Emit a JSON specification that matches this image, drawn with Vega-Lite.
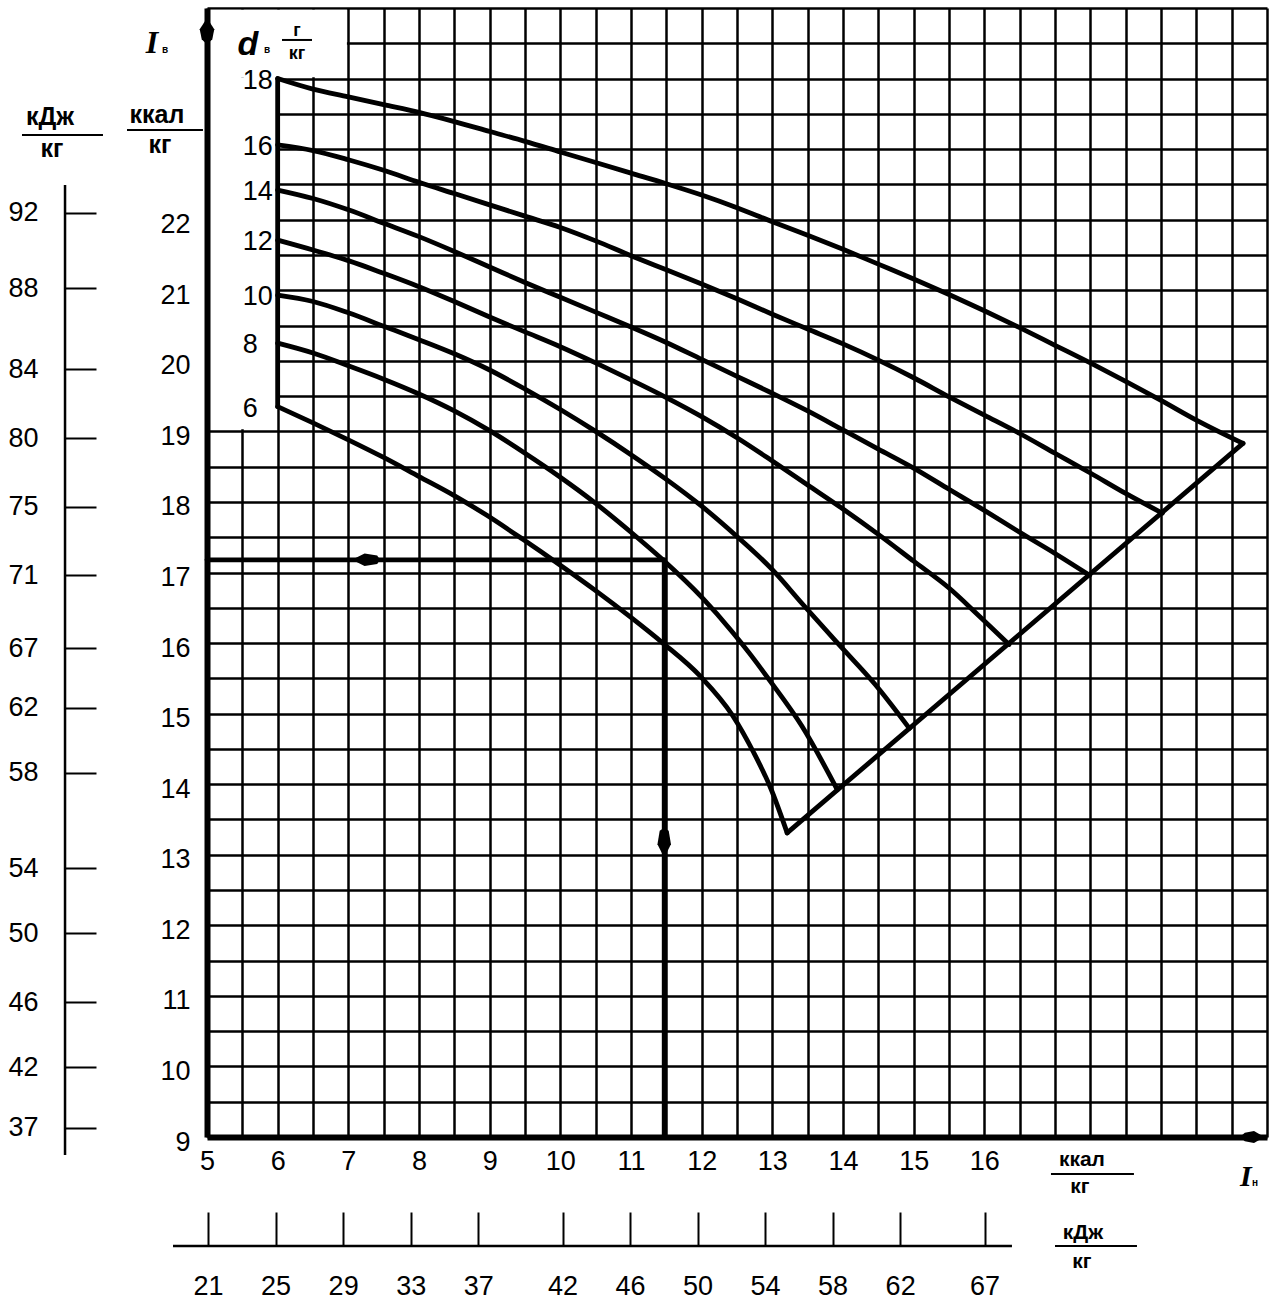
{
"$schema":"https://vega.github.io/schema/vega-lite/v6.json",
"width":1060,"height":1129,
"autosize":{"type":"none"},
"padding":{"left":207,"top":8,"right":8,"bottom":162},
"background":"white",
"config":{"view":{"stroke":null}},
"datasets":{
"curves":[
{"d":18,"x":6,"y":24.0},{"d":18,"x":6.5,"y":23.85},{"d":18,"x":7,"y":23.74},{"d":18,"x":7.5,"y":23.63},{"d":18,"x":8,"y":23.52},{"d":18,"x":8.5,"y":23.39},{"d":18,"x":9,"y":23.25},{"d":18,"x":9.5,"y":23.11},{"d":18,"x":10,"y":22.96},{"d":18,"x":10.5,"y":22.81},{"d":18,"x":11,"y":22.66},{"d":18,"x":11.5,"y":22.51},{"d":18,"x":12,"y":22.35},{"d":18,"x":12.5,"y":22.17},{"d":18,"x":13,"y":21.97},{"d":18,"x":13.5,"y":21.78},{"d":18,"x":14,"y":21.58},{"d":18,"x":14.5,"y":21.37},{"d":18,"x":15,"y":21.16},{"d":18,"x":15.5,"y":20.94},{"d":18,"x":16,"y":20.71},{"d":18,"x":16.5,"y":20.47},{"d":18,"x":17,"y":20.22},{"d":18,"x":17.5,"y":19.97},{"d":18,"x":18,"y":19.71},{"d":18,"x":18.5,"y":19.44},{"d":18,"x":19,"y":19.16},{"d":18,"x":19.66,"y":18.83},
{"d":16,"x":6,"y":23.06},{"d":16,"x":6.5,"y":22.98},{"d":16,"x":7,"y":22.85},{"d":16,"x":7.5,"y":22.7},{"d":16,"x":8,"y":22.53},{"d":16,"x":8.5,"y":22.37},{"d":16,"x":9,"y":22.21},{"d":16,"x":9.5,"y":22.05},{"d":16,"x":10,"y":21.89},{"d":16,"x":10.5,"y":21.7},{"d":16,"x":11,"y":21.49},{"d":16,"x":11.5,"y":21.29},{"d":16,"x":12,"y":21.09},{"d":16,"x":12.5,"y":20.88},{"d":16,"x":13,"y":20.66},{"d":16,"x":13.5,"y":20.45},{"d":16,"x":14,"y":20.24},{"d":16,"x":14.5,"y":20.01},{"d":16,"x":15,"y":19.76},{"d":16,"x":15.5,"y":19.49},{"d":16,"x":16,"y":19.23},{"d":16,"x":16.5,"y":18.97},{"d":16,"x":17,"y":18.69},{"d":16,"x":17.5,"y":18.41},{"d":16,"x":18,"y":18.12},{"d":16,"x":18.52,"y":17.84},
{"d":14,"x":6,"y":22.42},{"d":14,"x":6.5,"y":22.3},{"d":14,"x":7,"y":22.14},{"d":14,"x":7.5,"y":21.95},{"d":14,"x":8,"y":21.76},{"d":14,"x":8.5,"y":21.55},{"d":14,"x":9,"y":21.33},{"d":14,"x":9.5,"y":21.11},{"d":14,"x":10,"y":20.9},{"d":14,"x":10.5,"y":20.69},{"d":14,"x":11,"y":20.48},{"d":14,"x":11.5,"y":20.26},{"d":14,"x":12,"y":20.02},{"d":14,"x":12.5,"y":19.78},{"d":14,"x":13,"y":19.54},{"d":14,"x":13.5,"y":19.29},{"d":14,"x":14,"y":19.02},{"d":14,"x":14.5,"y":18.75},{"d":14,"x":15,"y":18.48},{"d":14,"x":15.5,"y":18.18},{"d":14,"x":16,"y":17.88},{"d":14,"x":16.5,"y":17.57},{"d":14,"x":17,"y":17.27},{"d":14,"x":17.49,"y":16.96},
{"d":12,"x":6,"y":21.71},{"d":12,"x":6.5,"y":21.57},{"d":12,"x":7,"y":21.42},{"d":12,"x":7.5,"y":21.24},{"d":12,"x":8,"y":21.05},{"d":12,"x":8.5,"y":20.84},{"d":12,"x":9,"y":20.62},{"d":12,"x":9.5,"y":20.41},{"d":12,"x":10,"y":20.2},{"d":12,"x":10.5,"y":19.97},{"d":12,"x":11,"y":19.73},{"d":12,"x":11.5,"y":19.48},{"d":12,"x":12,"y":19.21},{"d":12,"x":12.5,"y":18.91},{"d":12,"x":13,"y":18.58},{"d":12,"x":13.5,"y":18.24},{"d":12,"x":14,"y":17.9},{"d":12,"x":14.5,"y":17.54},{"d":12,"x":15,"y":17.16},{"d":12,"x":15.5,"y":16.78},{"d":12,"x":15.9,"y":16.41},{"d":12,"x":16.35,"y":15.98},
{"d":10,"x":6,"y":20.93},{"d":10,"x":6.5,"y":20.84},{"d":10,"x":7,"y":20.68},{"d":10,"x":7.5,"y":20.49},{"d":10,"x":8,"y":20.3},{"d":10,"x":8.5,"y":20.1},{"d":10,"x":9,"y":19.87},{"d":10,"x":9.5,"y":19.6},{"d":10,"x":10,"y":19.31},{"d":10,"x":10.5,"y":19.0},{"d":10,"x":11,"y":18.67},{"d":10,"x":11.5,"y":18.32},{"d":10,"x":12,"y":17.94},{"d":10,"x":12.5,"y":17.51},{"d":10,"x":13,"y":17.04},{"d":10,"x":13.43,"y":16.55},{"d":10,"x":13.96,"y":15.96},{"d":10,"x":14.45,"y":15.42},{"d":10,"x":14.94,"y":14.79},
{"d":8,"x":6,"y":20.25},{"d":8,"x":6.5,"y":20.11},{"d":8,"x":7,"y":19.93},{"d":8,"x":7.5,"y":19.74},{"d":8,"x":8,"y":19.53},{"d":8,"x":8.5,"y":19.29},{"d":8,"x":9,"y":19.01},{"d":8,"x":9.5,"y":18.69},{"d":8,"x":10,"y":18.35},{"d":8,"x":10.5,"y":17.98},{"d":8,"x":11,"y":17.57},{"d":8,"x":11.45,"y":17.18},{"d":8,"x":12,"y":16.65},{"d":8,"x":12.44,"y":16.15},{"d":8,"x":12.68,"y":15.85},{"d":8,"x":12.97,"y":15.46},{"d":8,"x":13.42,"y":14.82},{"d":8,"x":13.92,"y":13.92},
{"d":6,"x":6,"y":19.35},{"d":6,"x":6.5,"y":19.12},{"d":6,"x":7,"y":18.88},{"d":6,"x":7.5,"y":18.63},{"d":6,"x":8,"y":18.36},{"d":6,"x":8.48,"y":18.1},{"d":6,"x":8.96,"y":17.81},{"d":6,"x":9.47,"y":17.47},{"d":6,"x":9.99,"y":17.11},{"d":6,"x":10.49,"y":16.75},{"d":6,"x":10.99,"y":16.37},{"d":6,"x":11.45,"y":16.0},{"d":6,"x":11.98,"y":15.53},{"d":6,"x":12.44,"y":14.97},{"d":6,"x":12.73,"y":14.46},{"d":6,"x":12.97,"y":13.96},{"d":6,"x":13.21,"y":13.31}
],
"segments":[
{"x":13.21,"y":13.31,"x2":19.66,"y2":18.83},
{"x":6,"y":19.35,"x2":6,"y2":24.0},
{"x":5,"y":17.18,"x2":11.47,"y2":17.18},
{"x":11.47,"y":17.18,"x2":11.47,"y2":9}
]
},
"resolve":{"axis":{"x":"independent","y":"independent"}},
"layer":[
{"data":{"values":[{}]},"mark":{"type":"rect","color":"white"},
"encoding":{
"x":{"datum":5.04,"type":"quantitative","scale":{"domain":[5,20],"nice":false,"zero":false},
"axis":{"orient":"bottom","values":[5,5.5,6,6.5,7,7.5,8,8.5,9,9.5,10,10.5,11,11.5,12,12.5,13,13.5,14,14.5,15,15.5,16,16.5,17,17.5,18,18.5,19,19.5,20],"grid":true,"gridColor":"black","gridWidth":2.5,"gridOpacity":1,"labels":false,"ticks":false,"domain":false,"title":null,"zindex":0}},
"x2":{"datum":5.985},
"y":{"datum":19.03,"type":"quantitative","scale":{"domain":[9,25],"nice":false,"zero":false},
"axis":{"orient":"left","values":[9,9.5,10,10.5,11,11.5,12,12.5,13,13.5,14,14.5,15,15.5,16,16.5,17,17.5,18,18.5,19,19.5,20,20.5,21,21.5,22,22.5,23,23.5,24,24.5,25],"grid":true,"gridColor":"black","gridWidth":2.5,"gridOpacity":1,"labels":false,"ticks":false,"domain":false,"title":null,"zindex":0}},
"y2":{"datum":24.02}}},
{"data":{"values":[{}]},"mark":{"type":"rect","color":"white"},
"encoding":{"x":{"datum":5.04,"type":"quantitative","axis":null},"x2":{"datum":6.98},"y":{"datum":24.02,"type":"quantitative","axis":null},"y2":{"datum":24.975}}},
{"data":{"name":"curves"},"mark":{"type":"line","color":"black","strokeWidth":4.8,"strokeJoin":"round","strokeCap":"round","interpolate":"monotone"},
"encoding":{
"x":{"field":"x","type":"quantitative","axis":{"orient":"bottom","values":[5,6,7,8,9,10,11,12,13,14,15,16],"grid":false,"ticks":false,"tickSize":0,"domain":true,"domainColor":"black","domainWidth":6,"labelFont":"Liberation Sans","labelFontSize":27,"labelColor":"black","labelPadding":11,"labelFlush":false,"labelOverlap":false,"title":null,"zindex":1}},
"y":{"field":"y","type":"quantitative","axis":{"orient":"left","values":[9,10,11,12,13,14,15,16,17,18,19,20,21,22],"grid":false,"ticks":false,"tickSize":0,"domain":true,"domainColor":"black","domainWidth":6,"labelFont":"Liberation Sans","labelFontSize":27,"labelColor":"black","labelPadding":17,"labelOffset":5,"labelFlush":false,"labelOverlap":false,"title":null,"zindex":1}},
"detail":{"field":"d","type":"nominal"}}},
{"data":{"name":"curves"},"transform":[{"filter":"datum.x == 6"}],
"mark":{"type":"text","align":"left","baseline":"middle","dx":-35,"dy":2,"font":"Liberation Sans","fontSize":27,"color":"black"},
"encoding":{"x":{"field":"x","type":"quantitative","axis":null},"y":{"field":"y","type":"quantitative","axis":null},"text":{"field":"d"}}},
{"data":{"name":"segments"},"mark":{"type":"rule","color":"black","strokeWidth":4.8,"strokeCap":"round"},
"encoding":{"x":{"field":"x","type":"quantitative","axis":null},"y":{"field":"y","type":"quantitative","axis":null},"x2":{"field":"x2"},"y2":{"field":"y2"}}},
{"data":{"values":[{}]},"mark":{"type":"rule","color":"black","strokeWidth":2.5},
"encoding":{"x":{"datum":2.991,"type":"quantitative","axis":null},
"y":{"datum":22.492,"type":"quantitative","axis":{"orient":"left","offset":142,"values":[22.1,21.03,19.88,18.9,17.93,16.96,15.93,15.08,14.16,12.81,11.89,10.91,9.99,9.13],"labelExpr":"['37','42','46','50','54','58','62','67','71','75','80','84','88','92'][round(datum.value)-9]","grid":false,"domain":false,"ticks":true,"tickSize":-31,"tickWidth":2,"tickColor":"black","labelFont":"Liberation Sans","labelFontSize":27,"labelColor":"black","labelPadding":58,"labelFlush":false,"labelOverlap":false,"title":null,"zindex":1}},
"y2":{"datum":8.745}}},
{"data":{"values":[{}]},"mark":{"type":"rule","color":"black","strokeWidth":2.5},
"encoding":{"y":{"datum":7.455,"type":"quantitative","axis":null},
"x":{"datum":4.519,"type":"quantitative","axis":{"orient":"bottom","offset":109,"values":[5.0158,5.9711,6.9265,7.8819,8.8373,10.0315,10.9869,11.9423,12.8977,13.8531,14.8085,16.0027],"labelExpr":"format(datum.value*4.1868,'.0f')","grid":false,"domain":false,"ticks":true,"tickSize":-34,"tickWidth":2,"tickColor":"black","labelFont":"Liberation Sans","labelFontSize":27,"labelColor":"black","labelPadding":61,"labelFlush":false,"labelOverlap":false,"title":null,"zindex":1}},
"x2":{"datum":16.391}}},
{"data":{"values":[{}]},"mark":{"type":"point","shape":"M0,-1L0.55,-0.15L0.4,0.6L0,1L-0.4,0.6L-0.55,-0.15Z","filled":true,"color":"black","opacity":1,"size":700},
"encoding":{"x":{"datum":5,"type":"quantitative","axis":null},"y":{"datum":24.67,"type":"quantitative","axis":null}}},
{"data":{"values":[{}]},"mark":{"type":"point","shape":"M1,0L0.15,0.5L-0.6,0.35L-1,0L-0.6,-0.35L0.15,-0.5Z","filled":true,"color":"black","opacity":1,"size":600},
"encoding":{"x":{"datum":19.79,"type":"quantitative","axis":null},"y":{"datum":9,"type":"quantitative","axis":null}}},
{"data":{"values":[{}]},"mark":{"type":"point","shape":"M-1,0L-0.1,-0.45L0.8,-0.3L1,0L0.8,0.3L-0.1,0.45Z","filled":true,"color":"black","opacity":1,"size":784},
"encoding":{"x":{"datum":7.25,"type":"quantitative","axis":null},"y":{"datum":17.18,"type":"quantitative","axis":null}}},
{"data":{"values":[{}]},"mark":{"type":"point","shape":"M0,1L-0.45,0.1L-0.3,-0.8L0,-1L0.3,-0.8L0.45,0.1Z","filled":true,"color":"black","opacity":1,"size":900},
"encoding":{"x":{"datum":11.47,"type":"quantitative","axis":null},"y":{"datum":13.17,"type":"quantitative","axis":null}}},
{"data":{"values":[{}]},"mark":{"type":"text","text":"I","font":"Liberation Serif","fontStyle":"italic","fontWeight":"bold","fontSize":32,"align":"center","baseline":"alphabetic","color":"black"},
"encoding":{"x":{"datum":4.222,"type":"quantitative","axis":null},"y":{"datum":24.363,"type":"quantitative","axis":null}}},
{"data":{"values":[{}]},"mark":{"type":"text","text":"в","font":"Liberation Sans","fontWeight":"bold","fontSize":10,"align":"center","baseline":"alphabetic","color":"black"},
"encoding":{"x":{"datum":4.406,"type":"quantitative","axis":null},"y":{"datum":24.363,"type":"quantitative","axis":null}}},
{"data":{"values":[{}]},"mark":{"type":"text","text":"d","font":"Liberation Sans","fontStyle":"italic","fontWeight":"bold","fontSize":34,"align":"center","baseline":"alphabetic","color":"black"},
"encoding":{"x":{"datum":5.58,"type":"quantitative","axis":null},"y":{"datum":24.334,"type":"quantitative","axis":null}}},
{"data":{"values":[{}]},"mark":{"type":"text","text":"в","font":"Liberation Sans","fontWeight":"bold","fontSize":10,"align":"center","baseline":"alphabetic","color":"black"},
"encoding":{"x":{"datum":5.85,"type":"quantitative","axis":null},"y":{"datum":24.363,"type":"quantitative","axis":null}}},
{"data":{"values":[{}]},"mark":{"type":"text","text":"г","font":"Liberation Sans","fontWeight":"bold","fontSize":18,"align":"center","baseline":"alphabetic","color":"black"},
"encoding":{"x":{"datum":6.273,"type":"quantitative","axis":null},"y":{"datum":24.6,"type":"quantitative","axis":null}}},
{"data":{"values":[{}]},"mark":{"type":"rule","color":"black","strokeWidth":2},
"encoding":{"x":{"datum":6.061,"type":"quantitative","axis":null},"x2":{"datum":6.486},"y":{"datum":24.547,"type":"quantitative","axis":null}}},
{"data":{"values":[{}]},"mark":{"type":"text","text":"кг","font":"Liberation Sans","fontWeight":"bold","fontSize":18,"align":"center","baseline":"alphabetic","color":"black"},
"encoding":{"x":{"datum":6.273,"type":"quantitative","axis":null},"y":{"datum":24.28,"type":"quantitative","axis":null}}},
{"data":{"values":[{}]},"mark":{"type":"text","text":"кДж","font":"Liberation Sans","fontWeight":"bold","fontSize":25,"align":"center","baseline":"alphabetic","color":"black"},
"encoding":{"x":{"datum":2.778,"type":"quantitative","axis":null},"y":{"datum":23.342,"type":"quantitative","axis":null}}},
{"data":{"values":[{}]},"mark":{"type":"rule","color":"black","strokeWidth":2},
"encoding":{"x":{"datum":2.382,"type":"quantitative","axis":null},"x2":{"datum":3.528},"y":{"datum":23.2,"type":"quantitative","axis":null}}},
{"data":{"values":[{}]},"mark":{"type":"text","text":"кг","font":"Liberation Sans","fontWeight":"bold","fontSize":25,"align":"center","baseline":"alphabetic","color":"black"},
"encoding":{"x":{"datum":2.807,"type":"quantitative","axis":null},"y":{"datum":22.889,"type":"quantitative","axis":null}}},
{"data":{"values":[{}]},"mark":{"type":"text","text":"ккал","font":"Liberation Sans","fontWeight":"bold","fontSize":25,"align":"center","baseline":"alphabetic","color":"black"},
"encoding":{"x":{"datum":4.292,"type":"quantitative","axis":null},"y":{"datum":23.371,"type":"quantitative","axis":null}}},
{"data":{"values":[{}]},"mark":{"type":"rule","color":"black","strokeWidth":2},
"encoding":{"x":{"datum":3.868,"type":"quantitative","axis":null},"x2":{"datum":4.943},"y":{"datum":23.271,"type":"quantitative","axis":null}}},
{"data":{"values":[{}]},"mark":{"type":"text","text":"кг","font":"Liberation Sans","fontWeight":"bold","fontSize":25,"align":"center","baseline":"alphabetic","color":"black"},
"encoding":{"x":{"datum":4.335,"type":"quantitative","axis":null},"y":{"datum":22.945,"type":"quantitative","axis":null}}},
{"data":{"values":[{}]},"mark":{"type":"text","text":"ккал","font":"Liberation Sans","fontWeight":"bold","fontSize":21,"align":"center","baseline":"alphabetic","color":"black"},
"encoding":{"x":{"datum":17.381,"type":"quantitative","axis":null},"y":{"datum":8.59,"type":"quantitative","axis":null}}},
{"data":{"values":[{}]},"mark":{"type":"rule","color":"black","strokeWidth":2},
"encoding":{"x":{"datum":16.943,"type":"quantitative","axis":null},"x2":{"datum":18.117},"y":{"datum":8.476,"type":"quantitative","axis":null}}},
{"data":{"values":[{}]},"mark":{"type":"text","text":"кг","font":"Liberation Sans","fontWeight":"bold","fontSize":21,"align":"center","baseline":"alphabetic","color":"black"},
"encoding":{"x":{"datum":17.353,"type":"quantitative","axis":null},"y":{"datum":8.2,"type":"quantitative","axis":null}}},
{"data":{"values":[{}]},"mark":{"type":"text","text":"кДж","font":"Liberation Sans","fontWeight":"bold","fontSize":21,"align":"center","baseline":"alphabetic","color":"black"},
"encoding":{"x":{"datum":17.396,"type":"quantitative","axis":null},"y":{"datum":7.56,"type":"quantitative","axis":null}}},
{"data":{"values":[{}]},"mark":{"type":"rule","color":"black","strokeWidth":2},
"encoding":{"x":{"datum":17.0,"type":"quantitative","axis":null},"x2":{"datum":18.16},"y":{"datum":7.455,"type":"quantitative","axis":null}}},
{"data":{"values":[{}]},"mark":{"type":"text","text":"кг","font":"Liberation Sans","fontWeight":"bold","fontSize":21,"align":"center","baseline":"alphabetic","color":"black"},
"encoding":{"x":{"datum":17.381,"type":"quantitative","axis":null},"y":{"datum":7.14,"type":"quantitative","axis":null}}},
{"data":{"values":[{}]},"mark":{"type":"text","text":"I","font":"Liberation Serif","fontStyle":"italic","fontWeight":"bold","fontSize":30,"align":"center","baseline":"alphabetic","color":"black"},
"encoding":{"x":{"datum":19.7,"type":"quantitative","axis":null},"y":{"datum":8.306,"type":"quantitative","axis":null}}},
{"data":{"values":[{}]},"mark":{"type":"text","text":"н","font":"Liberation Sans","fontWeight":"bold","fontSize":10,"align":"center","baseline":"alphabetic","color":"black"},
"encoding":{"x":{"datum":19.83,"type":"quantitative","axis":null},"y":{"datum":8.306,"type":"quantitative","axis":null}}}
]
}
